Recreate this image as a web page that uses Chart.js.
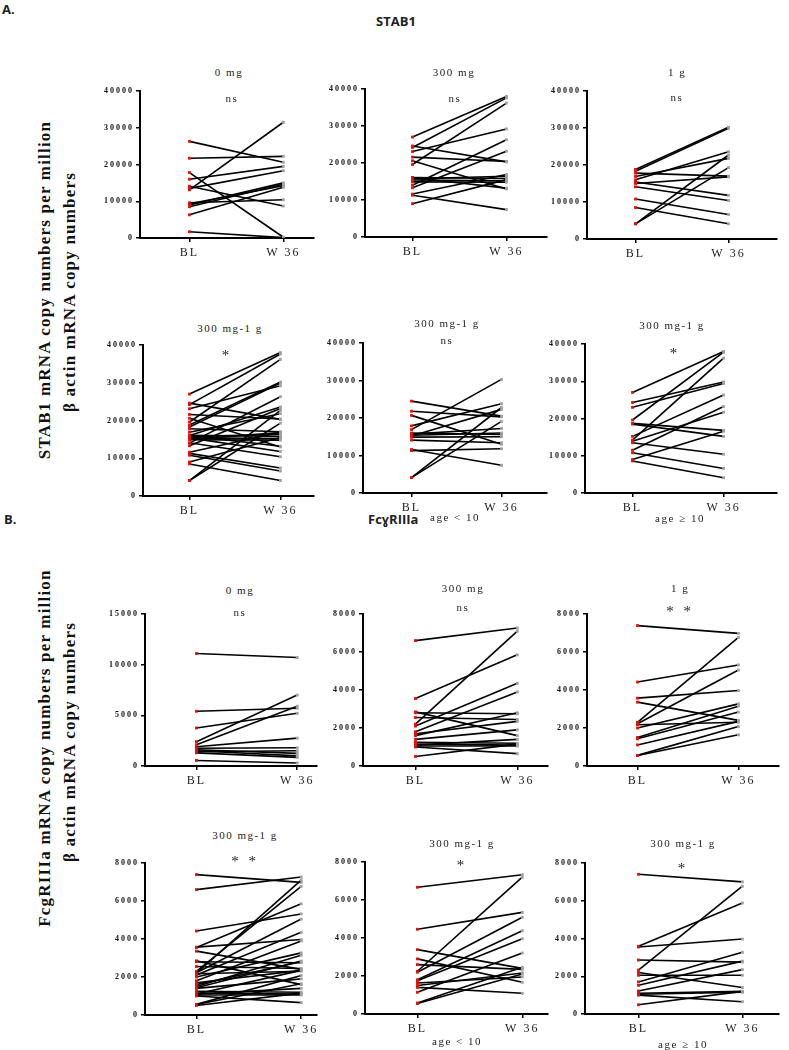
<!DOCTYPE html>
<html>
<head>
<meta charset="utf-8">
<script src="https://cdn.jsdelivr.net/npm/chart.js@4.4.0/dist/chart.umd.min.js"></script>
<style>
body { margin: 0; background: #fff; width: 789px; height: 1050px; position: relative; overflow: hidden; font-family: "Liberation Serif", serif; color: #222; }
canvas { position: absolute; }
.t { position: absolute; transform: translate(-50%, -50%); white-space: nowrap; font-size: 11px; letter-spacing: 1.5px; }
.star { font-size: 15px; letter-spacing: 3px; }
.head { position: absolute; font-family: "Open Sans", sans-serif; font-weight: bold; font-size: 13px; }
.ytitle { position: absolute; transform: translate(-50%, -50%) rotate(-90deg); white-space: nowrap; font-weight: bold; font-size: 17px; letter-spacing: 1.2px; color: #111; }
</style>
</head>
<body>
<div class="head" style="left:2px;top:0px;">A.</div>
<div class="head" style="left:376px;top:12px;">STAB1</div>
<div class="head" style="left:4px;top:510px;">B.</div>
<div class="head" style="left:368px;top:510px;">FcɣRIIIa</div>

<div class="ytitle" style="left:45px;top:290px;">STAB1 mRNA copy numbers per million</div>
<div class="ytitle" style="left:70px;top:292px;">β actin mRNA copy numbers</div>
<div class="ytitle" style="left:45px;top:748px;">FcgRIIIa mRNA copy numbers per million</div>
<div class="ytitle" style="left:70px;top:742px;">β actin mRNA copy numbers</div>

<script>
const timepoints = ['BL', 'W 36'];

// STAB1
const stab0mgBL = [26300, 21700, 17800, 16000, 14100, 13500, 13100, 9600, 9300, 9000, 8500, 6300, 1700];
const stab0mgW36 = [20600, 22200, 200, 19500, 8700, 18300, 31500, 10400, 14200, 15000, 14600, 13800, 100];
const stab300BL = [27000, 24600, 24200, 23100, 21600, 20600, 19600, 16100, 16000, 15700, 15400, 14900, 14000, 13300, 11600, 11300, 9000];
const stab300W36 = [38000, 20300, 37600, 29200, 20400, 13000, 36200, 15800, 13200, 16400, 15200, 14800, 26300, 23200, 16900, 7400, 15500];
const stab1gBL = [18800, 18300, 17800, 16900, 16000, 15400, 15000, 14100, 10800, 8500, 4100, 4100];
const stab1gW36 = [30200, 29900, 17000, 21800, 23600, 11800, 16800, 10400, 6600, 4100, 22700, 19300];
const stabYoungBL = [24500, 21800, 20700, 17900, 16900, 16000, 15700, 15400, 15200, 14900, 14100, 11600, 11300, 4100, 4100];
const stabYoungW36 = [20500, 20300, 13000, 23800, 30300, 15600, 17200, 16000, 22300, 15000, 13400, 7400, 11800, 22800, 19100];
const stabOldBL = [27000, 24300, 23000, 19600, 18700, 18500, 15200, 14200, 13900, 13500, 11500, 10800, 9000, 8600];
const stabOldW36 = [38000, 29800, 29400, 37800, 16800, 15200, 26300, 36200, 21700, 10400, 23200, 6600, 16600, 4100];

// FcgRIIIa
const fcg0mgBL = [11100, 5400, 3750, 2400, 2100, 1900, 1750, 1600, 1500, 1400, 1300, 550];
const fcg0mgW36 = [10700, 5700, 5200, 7000, 5900, 2750, 1800, 1250, 1000, 1500, 850, 300];
const fcg300BL = [6600, 3550, 2850, 2800, 2550, 2200, 2100, 1800, 1700, 1600, 1400, 1250, 1150, 1100, 1050, 1000, 500];
const fcg300W36 = [7260, 5850, 1600, 2750, 2450, 7100, 4350, 3900, 2350, 2800, 1900, 1200, 1100, 1400, 1050, 650, 1150];
const fcg1gBL = [7390, 4420, 3570, 3360, 2300, 2220, 2170, 2000, 1500, 1430, 1110, 560, 550];
const fcg1gW36 = [6980, 5320, 3970, 2400, 6770, 5050, 2300, 3270, 3150, 2840, 2350, 2080, 1640];
const fcgYoungBL = [6670, 4460, 3390, 2900, 2600, 2250, 2200, 1800, 1750, 1630, 1500, 1400, 1140, 580, 550];
const fcgYoungW36 = [7330, 5350, 2400, 1670, 2350, 7200, 5090, 4380, 3960, 1950, 2160, 1090, 3210, 2460, 2100];
const fcgOldBL = [7400, 3590, 3550, 2860, 2330, 2200, 2050, 1700, 1520, 1220, 1100, 1050, 1000, 490];
const fcgOldW36 = [7000, 5880, 3970, 2750, 6770, 1400, 2050, 3270, 2800, 2350, 1200, 1150, 650, 1200];

Chart.register({
  id: 'spacing',
  beforeDraw(chart) { chart.ctx.letterSpacing = '2px'; }
});

function label(text, x, y, cls) {
  const d = document.createElement('div');
  d.className = 't' + (cls ? ' ' + cls : '');
  d.style.left = x + 'px';
  d.style.top = y + 'px';
  d.textContent = text;
  document.body.appendChild(d);
}

// axisX: y axis line, right: end of x axis, top/zero: pixel rows of max and 0, blx/wx: pixel columns of BL and W 36
function panel(p) {
  const W = 60, H = 28, padTop = 8, padRight = 2;
  const c = document.createElement('canvas');
  const left = p.axisX - W;
  const top = p.top - padTop;
  const width = p.right - left + padRight;
  const height = (p.zero - p.top) + padTop + H;
  c.width = width; c.height = height;
  c.style.left = left + 'px'; c.style.top = top + 'px';
  c.style.width = width + 'px'; c.style.height = height + 'px';
  document.body.appendChild(c);

  const ppu = p.wx - p.blx;
  const xmin = -(p.blx - p.axisX) / ppu;
  const xmax = 1 + (p.right - p.wx) / ppu;

  const datasets = p.bl.map((v, i) => ({
    data: [{ x: 0, y: v }, { x: 1, y: p.w36[i] }],
    borderColor: '#000',
    borderWidth: 1.6,
    pointStyle: 'rect',
    pointRadius: 2,
    pointBorderWidth: 0,
    pointBackgroundColor: ['#e3120b', '#a0a0a0'],
    pointBorderColor: ['#e3120b', '#a0a0a0']
  }));

  new Chart(c, {
    type: 'line',
    data: { datasets },
    options: {
      responsive: false,
      animation: false,
      layout: { padding: { top: padTop, right: padRight, left: 0, bottom: 0 } },
      plugins: { legend: { display: false }, tooltip: { enabled: false } },
      scales: {
        x: {
          type: 'linear', min: xmin, max: xmax,
          afterBuildTicks: s => { s.ticks = [{ value: 0 }, { value: 1 }]; },
          afterFit: s => { s.height = H; },
          ticks: {
            callback: v => timepoints[v],
            color: '#222', padding: 4,
            font: { family: 'Liberation Serif', size: 12 }
          },
          grid: { drawOnChartArea: false, tickLength: 4, color: '#000', lineWidth: 1.5 },
          border: { color: '#000', width: 2 }
        },
        y: {
          min: 0, max: p.max,
          afterFit: s => { s.width = W; },
          ticks: {
            stepSize: p.step, color: '#111', padding: 2,
            callback: v => String(v),
            font: { family: 'Liberation Serif', size: 8, weight: 'bold' }
          },
          grid: { drawOnChartArea: false, tickLength: 4, color: '#000', lineWidth: 1.5 },
          border: { color: '#000', width: 2 }
        }
      }
    }
  });
}

// STAB1 row 1
panel({ bl: stab0mgBL, w36: stab0mgW36, max: 40000, step: 10000, axisX: 140, right: 316, top: 91, zero: 238, blx: 190, wx: 285 });
panel({ bl: stab300BL, w36: stab300W36, max: 40000, step: 10000, axisX: 365, right: 549, top: 89, zero: 237, blx: 413, wx: 508 });
panel({ bl: stab1gBL, w36: stab1gW36, max: 40000, step: 10000, axisX: 587, right: 779, top: 91, zero: 239, blx: 636, wx: 730 });
label('0 mg', 229, 72); label('300 mg', 454, 72); label('1 g', 677, 72);
label('ns', 232, 98); label('ns', 455, 98); label('ns', 677, 97);

// STAB1 row 2
panel({ bl: stab300BL.concat(stab1gBL), w36: stab300W36.concat(stab1gW36), max: 40000, step: 10000, axisX: 143, right: 316, top: 345, zero: 496, blx: 190, wx: 282 });
panel({ bl: stabYoungBL, w36: stabYoungW36, max: 40000, step: 10000, axisX: 363, right: 549, top: 343, zero: 493, blx: 412, wx: 503 });
panel({ bl: stabOldBL, w36: stabOldW36, max: 40000, step: 10000, axisX: 585, right: 779, top: 344, zero: 493, blx: 633, wx: 725 });
label('300 mg-1 g', 230, 328); label('300 mg-1 g', 447, 323); label('300 mg-1 g', 672, 325);
label('*', 227, 355, 'star'); label('ns', 447, 340); label('*', 675, 353, 'star');
label('age < 10', 455, 517); label('age ≥ 10', 680, 518);

// FcgRIIIa row 1
panel({ bl: fcg0mgBL, w36: fcg0mgW36, max: 15000, step: 5000, axisX: 145, right: 319, top: 614, zero: 766, blx: 197, wx: 299 });
panel({ bl: fcg300BL, w36: fcg300W36, max: 8000, step: 2000, axisX: 363, right: 550, top: 614, zero: 766, blx: 416, wx: 519 });
panel({ bl: fcg1gBL, w36: fcg1gW36, max: 8000, step: 2000, axisX: 587, right: 781, top: 614, zero: 766, blx: 638, wx: 740 });
label('0 mg', 240, 590); label('300 mg', 463, 588); label('1 g', 680, 588);
label('ns', 240, 612); label('ns', 463, 607); label('* *', 680, 611, 'star');

// FcgRIIIa row 2
panel({ bl: fcg300BL.concat(fcg1gBL), w36: fcg300W36.concat(fcg1gW36), max: 8000, step: 2000, axisX: 145, right: 319, top: 863, zero: 1015, blx: 197, wx: 303 });
panel({ bl: fcgYoungBL, w36: fcgYoungW36, max: 8000, step: 2000, axisX: 365, right: 550, top: 862, zero: 1014, blx: 418, wx: 524 });
panel({ bl: fcgOldBL, w36: fcgOldW36, max: 8000, step: 2000, axisX: 585, right: 781, top: 863, zero: 1014, blx: 639, wx: 744 });
label('300 mg-1 g', 245, 835); label('300 mg-1 g', 462, 843); label('300 mg-1 g', 683, 843);
label('* *', 245, 861, 'star'); label('*', 462, 865, 'star'); label('*', 683, 868, 'star');
label('age < 10', 457, 1041); label('age ≥ 10', 683, 1044);
</script>
</body>
</html>
